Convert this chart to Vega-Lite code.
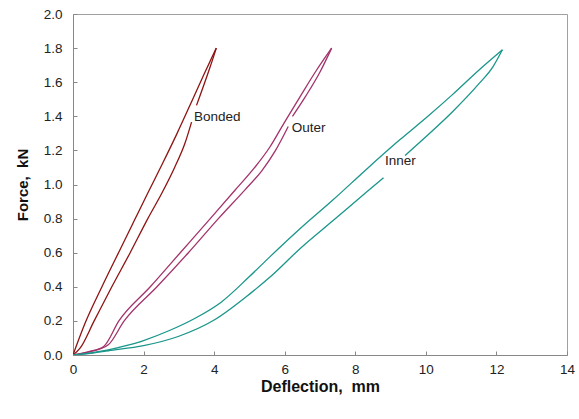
{
  "$schema": "https://vega.github.io/schema/vega-lite/v6.json",
  "width": 494,
  "height": 341,
  "autosize": {"type": "none"},
  "padding": {"left": 73, "top": 14, "right": 12, "bottom": 64},
  "background": "white",
  "config": {
    "view": {"stroke": "#a0a0a0", "strokeWidth": 1},
    "font": "Liberation Sans",
    "axis": {
      "grid": false,
      "domainColor": "#888888",
      "tickColor": "#888888",
      "tickSize": -4,
      "labelFontSize": 13.5,
      "labelColor": "#222222",
      "labelOverlap": false,
      "labelFlush": false,
      "titleFontWeight": "bold",
      "titleColor": "#111111"
    }
  },
  "datasets": {
    "curves": [
      {"s": "Bonded", "g": "B1", "i": 0, "x": 0, "y": 0},
      {"s": "Bonded", "g": "B1", "i": 1, "x": 0.35, "y": 0.19},
      {"s": "Bonded", "g": "B1", "i": 2, "x": 0.82, "y": 0.4},
      {"s": "Bonded", "g": "B1", "i": 3, "x": 1.29, "y": 0.6},
      {"s": "Bonded", "g": "B1", "i": 4, "x": 1.74, "y": 0.79},
      {"s": "Bonded", "g": "B1", "i": 5, "x": 2.12, "y": 0.95},
      {"s": "Bonded", "g": "B1", "i": 6, "x": 2.53, "y": 1.12},
      {"s": "Bonded", "g": "B1", "i": 7, "x": 2.95, "y": 1.3},
      {"s": "Bonded", "g": "B1", "i": 8, "x": 3.37, "y": 1.49},
      {"s": "Bonded", "g": "B1", "i": 9, "x": 3.72, "y": 1.65},
      {"s": "Bonded", "g": "B1", "i": 10, "x": 4.06, "y": 1.8},
      {"s": "Bonded", "g": "B2", "i": 0, "x": 0, "y": 0},
      {"s": "Bonded", "g": "B2", "i": 1, "x": 0.2, "y": 0.04},
      {"s": "Bonded", "g": "B2", "i": 2, "x": 0.6, "y": 0.2},
      {"s": "Bonded", "g": "B2", "i": 3, "x": 1.1, "y": 0.4},
      {"s": "Bonded", "g": "B2", "i": 4, "x": 1.62, "y": 0.6},
      {"s": "Bonded", "g": "B2", "i": 5, "x": 2.12, "y": 0.8},
      {"s": "Bonded", "g": "B2", "i": 6, "x": 2.52, "y": 0.95},
      {"s": "Bonded", "g": "B2", "i": 7, "x": 2.88, "y": 1.1},
      {"s": "Bonded", "g": "B2", "i": 8, "x": 3.17, "y": 1.24},
      {"s": "Bonded", "g": "B2", "i": 9, "x": 3.36, "y": 1.366},
      {"s": "Bonded", "g": "B3", "i": 0, "x": 3.5, "y": 1.464},
      {"s": "Bonded", "g": "B3", "i": 1, "x": 3.82, "y": 1.65},
      {"s": "Bonded", "g": "B3", "i": 2, "x": 4.0, "y": 1.76},
      {"s": "Bonded", "g": "B3", "i": 3, "x": 4.06, "y": 1.8},
      {"s": "Outer", "g": "O1", "i": 0, "x": 0, "y": 0},
      {"s": "Outer", "g": "O1", "i": 1, "x": 0.45, "y": 0.02},
      {"s": "Outer", "g": "O1", "i": 2, "x": 0.87, "y": 0.05},
      {"s": "Outer", "g": "O1", "i": 3, "x": 1.3, "y": 0.2},
      {"s": "Outer", "g": "O1", "i": 4, "x": 2.19, "y": 0.4},
      {"s": "Outer", "g": "O1", "i": 5, "x": 3.04, "y": 0.6},
      {"s": "Outer", "g": "O1", "i": 6, "x": 3.89, "y": 0.8},
      {"s": "Outer", "g": "O1", "i": 7, "x": 4.59, "y": 0.966},
      {"s": "Outer", "g": "O1", "i": 8, "x": 5.15, "y": 1.1},
      {"s": "Outer", "g": "O1", "i": 9, "x": 5.58, "y": 1.22},
      {"s": "Outer", "g": "O1", "i": 10, "x": 5.98, "y": 1.36},
      {"s": "Outer", "g": "O1", "i": 11, "x": 6.45, "y": 1.52},
      {"s": "Outer", "g": "O1", "i": 12, "x": 6.9, "y": 1.67},
      {"s": "Outer", "g": "O1", "i": 13, "x": 7.33, "y": 1.8},
      {"s": "Outer", "g": "O2", "i": 0, "x": 0, "y": 0},
      {"s": "Outer", "g": "O2", "i": 1, "x": 0.5, "y": 0.02},
      {"s": "Outer", "g": "O2", "i": 2, "x": 1.0, "y": 0.06},
      {"s": "Outer", "g": "O2", "i": 3, "x": 1.45, "y": 0.2},
      {"s": "Outer", "g": "O2", "i": 4, "x": 2.38, "y": 0.4},
      {"s": "Outer", "g": "O2", "i": 5, "x": 3.27, "y": 0.6},
      {"s": "Outer", "g": "O2", "i": 6, "x": 4.12, "y": 0.8},
      {"s": "Outer", "g": "O2", "i": 7, "x": 4.88, "y": 0.97},
      {"s": "Outer", "g": "O2", "i": 8, "x": 5.35, "y": 1.08},
      {"s": "Outer", "g": "O2", "i": 9, "x": 5.74, "y": 1.2},
      {"s": "Outer", "g": "O2", "i": 10, "x": 6.1, "y": 1.34},
      {"s": "Outer", "g": "O3", "i": 0, "x": 6.22, "y": 1.4},
      {"s": "Outer", "g": "O3", "i": 1, "x": 6.6, "y": 1.52},
      {"s": "Outer", "g": "O3", "i": 2, "x": 7.0, "y": 1.66},
      {"s": "Outer", "g": "O3", "i": 3, "x": 7.33, "y": 1.8},
      {"s": "Inner", "g": "I1", "i": 0, "x": 0, "y": 0},
      {"s": "Inner", "g": "I1", "i": 1, "x": 0.5, "y": 0.012},
      {"s": "Inner", "g": "I1", "i": 2, "x": 1.0, "y": 0.03},
      {"s": "Inner", "g": "I1", "i": 3, "x": 1.5, "y": 0.055},
      {"s": "Inner", "g": "I1", "i": 4, "x": 2.0, "y": 0.085},
      {"s": "Inner", "g": "I1", "i": 5, "x": 2.75, "y": 0.145},
      {"s": "Inner", "g": "I1", "i": 6, "x": 3.5, "y": 0.22},
      {"s": "Inner", "g": "I1", "i": 7, "x": 4.2, "y": 0.31},
      {"s": "Inner", "g": "I1", "i": 8, "x": 5.0, "y": 0.46},
      {"s": "Inner", "g": "I1", "i": 9, "x": 5.6, "y": 0.58},
      {"s": "Inner", "g": "I1", "i": 10, "x": 6.44, "y": 0.742},
      {"s": "Inner", "g": "I1", "i": 11, "x": 7.38, "y": 0.912},
      {"s": "Inner", "g": "I1", "i": 12, "x": 8.32, "y": 1.09},
      {"s": "Inner", "g": "I1", "i": 13, "x": 9.26, "y": 1.262},
      {"s": "Inner", "g": "I1", "i": 14, "x": 10.0, "y": 1.39},
      {"s": "Inner", "g": "I1", "i": 15, "x": 10.77, "y": 1.53},
      {"s": "Inner", "g": "I1", "i": 16, "x": 11.5, "y": 1.67},
      {"s": "Inner", "g": "I1", "i": 17, "x": 12.17, "y": 1.79},
      {"s": "Inner", "g": "I2", "i": 0, "x": 0, "y": 0},
      {"s": "Inner", "g": "I2", "i": 1, "x": 0.5, "y": 0.01},
      {"s": "Inner", "g": "I2", "i": 2, "x": 1.0, "y": 0.025},
      {"s": "Inner", "g": "I2", "i": 3, "x": 2.0, "y": 0.055},
      {"s": "Inner", "g": "I2", "i": 4, "x": 3.0, "y": 0.11},
      {"s": "Inner", "g": "I2", "i": 5, "x": 4.0, "y": 0.205},
      {"s": "Inner", "g": "I2", "i": 6, "x": 5.02, "y": 0.36},
      {"s": "Inner", "g": "I2", "i": 7, "x": 5.6, "y": 0.46},
      {"s": "Inner", "g": "I2", "i": 8, "x": 6.44, "y": 0.625},
      {"s": "Inner", "g": "I2", "i": 9, "x": 7.38, "y": 0.79},
      {"s": "Inner", "g": "I2", "i": 10, "x": 8.32, "y": 0.956},
      {"s": "Inner", "g": "I2", "i": 11, "x": 8.8, "y": 1.04},
      {"s": "Inner", "g": "I3", "i": 0, "x": 9.41, "y": 1.17},
      {"s": "Inner", "g": "I3", "i": 1, "x": 10.0, "y": 1.28},
      {"s": "Inner", "g": "I3", "i": 2, "x": 10.77, "y": 1.43},
      {"s": "Inner", "g": "I3", "i": 3, "x": 11.5, "y": 1.59},
      {"s": "Inner", "g": "I3", "i": 4, "x": 11.9, "y": 1.69},
      {"s": "Inner", "g": "I3", "i": 5, "x": 12.17, "y": 1.79}
    ],
    "labels": [
      {"t": "Bonded", "x": 3.43, "y": 1.395},
      {"t": "Outer", "x": 6.2, "y": 1.33},
      {"t": "Inner", "x": 8.84, "y": 1.14}
    ]
  },
  "layer": [
    {
      "data": {"name": "curves"},
      "mark": {"type": "line", "strokeWidth": 1.3, "clip": true, "interpolate": "monotone"},
      "encoding": {
        "x": {
          "field": "x", "type": "quantitative",
          "scale": {"domain": [0, 14], "nice": false},
          "axis": {"values": [0, 2, 4, 6, 8, 10, 12, 14], "title": "Deflection,\u00a0\u00a0mm", "titleFontSize": 16, "labelPadding": 11, "titlePadding": 3, "labelOverlap": false}
        },
        "y": {
          "field": "y", "type": "quantitative",
          "scale": {"domain": [0, 2], "nice": false},
          "axis": {"values": [0, 0.2, 0.4, 0.6, 0.8, 1.0, 1.2, 1.4, 1.6, 1.8, 2.0], "format": ".1f", "title": "Force,\u00a0\u00a0kN", "titleFontSize": 15, "labelPadding": 15, "titlePadding": 13, "labelOverlap": false, "tickCount": 11}
        },
        "color": {
          "field": "s", "type": "nominal",
          "scale": {"domain": ["Bonded", "Outer", "Inner"], "range": ["#8e1414", "#a3336b", "#1a968a"]},
          "legend": null
        },
        "detail": {"field": "g"},
        "order": {"field": "i", "type": "quantitative"}
      }
    },
    {
      "data": {"name": "labels"},
      "mark": {"type": "text", "align": "left", "baseline": "middle", "fontSize": 13.5, "color": "#222222"},
      "encoding": {
        "x": {"field": "x", "type": "quantitative"},
        "y": {"field": "y", "type": "quantitative"},
        "text": {"field": "t"}
      }
    }
  ]
}
